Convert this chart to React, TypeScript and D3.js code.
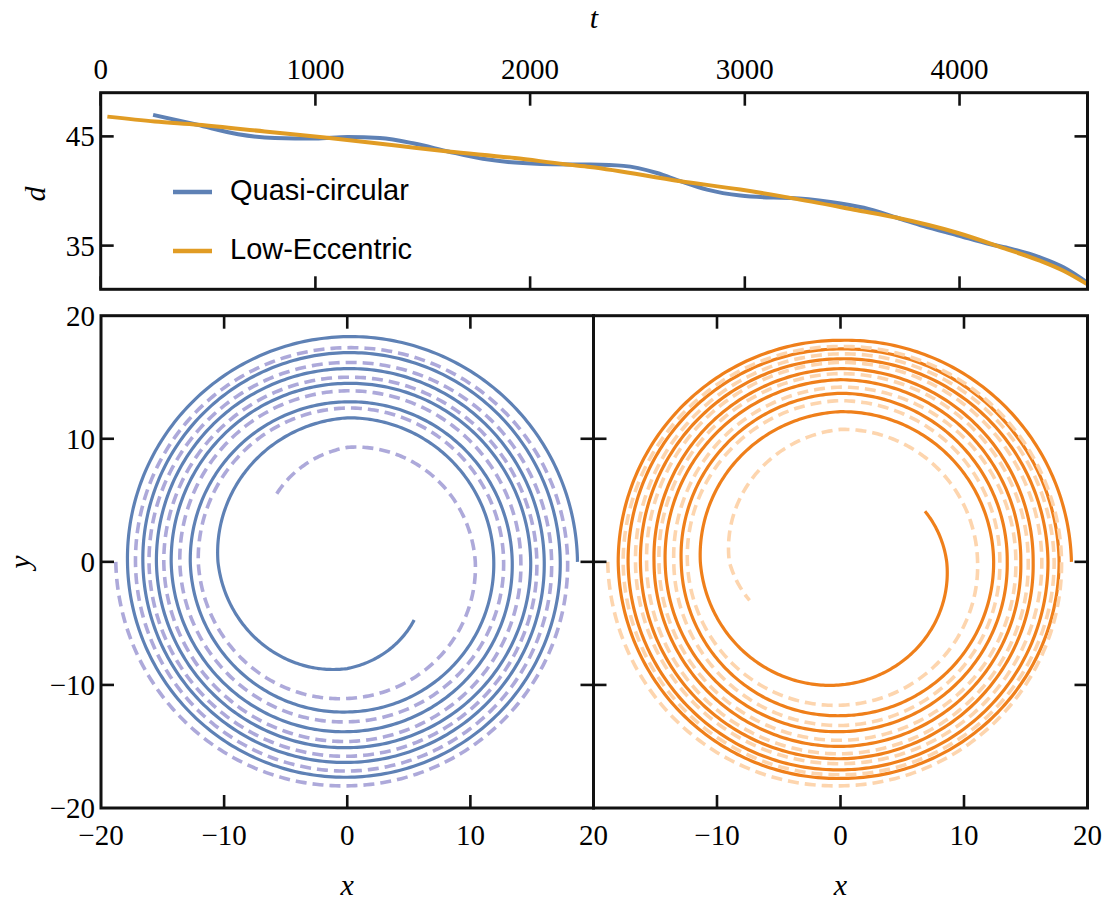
import React from "react";
import * as d3 from "d3";

// ---------- top panel data (separation d vs time t) ----------
const qcTime = [244, 450, 640, 811, 1000, 1150, 1300, 1460, 1618, 1780, 1930, 2100, 2280, 2435, 2591, 2700, 2824, 2979, 3134, 3212, 3399, 3554, 3709, 3833, 3989, 4144, 4237, 4377, 4486, 4596];
const qcSep = [46.97, 46.06, 45.2, 44.85, 44.8, 44.95, 44.85, 44.35, 43.62, 42.95, 42.6, 42.45, 42.42, 42.3, 41.65, 40.9, 40.13, 39.58, 39.4, 39.37, 39.0, 38.46, 37.55, 36.78, 35.95, 35.12, 34.72, 33.9, 32.99, 31.6];
const leTime = [31, 252, 453, 764, 1044, 1385, 1618, 1929, 2162, 2280, 2700, 2979, 3212, 3523, 3709, 3989, 4222, 4377, 4486, 4596];
const leSep = [46.81, 46.36, 46.06, 45.45, 44.9, 44.14, 43.62, 43.02, 42.45, 42.2, 40.9, 40.13, 39.37, 38.24, 37.55, 36.18, 34.66, 33.6, 32.68, 31.45];

const tTicks = [0, 1000, 2000, 3000, 4000];
const dTicks = [35, 45];
const xyTicks = [-20, -10, 0, 10, 20];
const innerTicks = [-10, 0, 10];
const legendLabels = ["Quasi-circular", "Low-Eccentric"];

// ---------- orbit tracks: angle (deg) and radius read at quarter turns ----------
const qcSolidAngle = [0, 90, 180, 270, 360, 450, 540, 630, 720, 810, 900, 990, 1080, 1170, 1260, 1350, 1440, 1530, 1620, 1710, 1800, 1890, 1980, 2070, 2119];
const qcSolidR = [18.7, 18.3, 17.85, 17.5, 17.3, 17.0, 16.6, 16.3, 16.0, 15.7, 15.5, 15.1, 14.9, 14.5, 14.3, 13.8, 13.4, 13.0, 12.75, 12.2, 11.9, 11.7, 10.5, 8.67, 7.2];
const qcDashAngle = [180, 270, 360, 450, 540, 630, 720, 810, 900, 990, 1080, 1170, 1260, 1350, 1440, 1530, 1620, 1710, 1800, 1890, 1980, 2070, 2160, 2250, 2296];
const qcDashR = [18.8, 18.2, 17.9, 17.4, 17.2, 17.0, 16.6, 16.2, 16.1, 15.8, 15.4, 15.0, 14.9, 14.6, 14.1, 13.9, 13.6, 13.0, 12.7, 12.5, 12.1, 11.1, 10.4, 9.3, 7.96];

const leSolidAngle = [0, 90, 180, 270, 360, 450, 540, 630, 720, 810, 900, 990, 1080, 1170, 1260, 1350, 1440, 1530, 1620, 1710, 1800, 1890, 1980, 2070, 2160, 2250, 2340, 2430, 2520, 2551];
const leSolidR = [18.7, 18.0, 18.0, 17.6, 17.7, 17.3, 17.2, 16.9, 16.8, 16.5, 16.2, 16.0, 15.6, 15.7, 15.1, 15.0, 14.6, 14.8, 14.2, 13.8, 13.5, 13.7, 12.9, 12.5, 12.4, 12.2, 11.35, 10.0, 8.6, 7.98];
const leDashAngle = [180, 270, 360, 450, 540, 630, 720, 810, 900, 990, 1080, 1170, 1260, 1350, 1440, 1530, 1620, 1710, 1800, 1890, 1980, 2070, 2160, 2250, 2340, 2430, 2520, 2610, 2700, 2723];
const leDashR = [18.85, 18.2, 17.9, 17.5, 17.6, 17.3, 17.3, 16.9, 16.6, 16.4, 16.3, 16.2, 15.7, 15.6, 15.2, 15.3, 14.7, 14.5, 14.2, 14.2, 13.5, 13.3, 12.9, 13.1, 12.4, 11.65, 11.1, 10.76, 9.0, 8.0];

const BLUE = "#5E81B5";
const GOLD = "#E19C24";
const LAVENDER = "#ADA9DA";
const ORANGE = "#EF7F1A";
const PEACH = "#FDD5AE";
const INK = "#111";
const SERIF = "'Liberation Serif', 'Times New Roman', serif";
const SANS = "'Liberation Sans', Arial, sans-serif";

const TOP = { left: 100.7, right: 1087.5, top: 92.7, bottom: 289.3 };
const BOT = { top: 315.7, bottom: 808, l1: 101, mid: 593.5, r2: 1087.5 };
const TICK = 13;

const fmt = (v: number) => (v < 0 ? "\u2212" + Math.abs(v) : String(v));

function spiralPath(angles: number[], radii: number[], xs: any, ys: any) {
  const rOf = d3.scaleLinear().domain(angles).range(radii);
  const a0 = angles[0];
  const a1 = angles[angles.length - 1];
  const samples = d3.range(a0, a1, 1).concat([a1]);
  const line = d3
    .line<number>()
    .x((a) => xs(rOf(a) * Math.cos((a * Math.PI) / 180)))
    .y((a) => ys(rOf(a) * Math.sin((a * Math.PI) / 180)));
  return line(samples) || "";
}

function OrbitPanel(props: {
  x0: number;
  x1: number;
  solidA: number[];
  solidR: number[];
  dashA: number[];
  dashR: number[];
  solidColor: string;
  dashColor: string;
  showLeftLabels: boolean;
  xLabels: number[];
}) {
  const xs = d3.scaleLinear().domain([-20, 20]).range([props.x0, props.x1]);
  const ys = d3.scaleLinear().domain([-20, 20]).range([BOT.bottom, BOT.top]);
  const clipId = "clip" + Math.round(props.x0);
  return (
    <g>
      <defs>
        <clipPath id={clipId}>
          <rect x={props.x0} y={BOT.top} width={props.x1 - props.x0} height={BOT.bottom - BOT.top} />
        </clipPath>
      </defs>
      <g clipPath={`url(#${clipId})`}>
        <path d={spiralPath(props.solidA, props.solidR, xs, ys)} fill="none" stroke={props.solidColor} strokeWidth={3.2} />
        <path
          d={spiralPath(props.dashA, props.dashR, xs, ys)}
          fill="none"
          stroke={props.dashColor}
          strokeWidth={3.6}
          strokeDasharray="11 6"
        />
      </g>
      <rect x={props.x0} y={BOT.top} width={props.x1 - props.x0} height={BOT.bottom - BOT.top} fill="none" stroke={INK} strokeWidth={3} />
      {innerTicks.map((v) => (
        <g key={"tx" + v}>
          <line x1={xs(v)} x2={xs(v)} y1={BOT.bottom} y2={BOT.bottom - TICK} stroke={INK} strokeWidth={2.6} />
          <line x1={xs(v)} x2={xs(v)} y1={BOT.top} y2={BOT.top + TICK} stroke={INK} strokeWidth={2.6} />
          <line x1={props.x0} x2={props.x0 + TICK} y1={ys(v)} y2={ys(v)} stroke={INK} strokeWidth={2.6} />
          <line x1={props.x1} x2={props.x1 - TICK} y1={ys(v)} y2={ys(v)} stroke={INK} strokeWidth={2.6} />
        </g>
      ))}
      {props.xLabels.map((v) => (
        <text key={"lx" + v} x={xs(v)} y={845} textAnchor="middle" fontFamily={SERIF} fontSize={29}>
          {fmt(v)}
        </text>
      ))}
      {props.showLeftLabels &&
        xyTicks.map((v) => (
          <text key={"ly" + v} x={props.x0 - 6} y={ys(v) + 10} textAnchor="end" fontFamily={SERIF} fontSize={29}>
            {fmt(v)}
          </text>
        ))}
      <text x={xs(0)} y={895} textAnchor="middle" fontFamily={SERIF} fontStyle="italic" fontSize={30}>
        x
      </text>
    </g>
  );
}

export default function App() {
  const ts = d3.scaleLinear().domain([0, 4596]).range([TOP.left, TOP.right]);
  const ds = d3.scaleLinear().domain([31, 49]).range([TOP.bottom, TOP.top]);
  const line = d3
    .line<number>()
    .curve(d3.curveMonotoneX);
  const qcPath = line.x((i) => ts(qcTime[i])).y((i) => ds(qcSep[i]))(d3.range(qcTime.length)) || "";
  const lePath = line.x((i) => ts(leTime[i])).y((i) => ds(leSep[i]))(d3.range(leTime.length)) || "";

  return (
    <svg
      width={1107}
      height={900}
      viewBox="0 0 1107 900"
      style={{ position: "absolute", left: 0, top: 0, background: "#fff" }}
    >
      <rect x={0} y={0} width={1107} height={900} fill="#fff" />
      {/* ---------- top panel ---------- */}
      <defs>
        <clipPath id="topclip">
          <rect x={TOP.left} y={TOP.top} width={TOP.right - TOP.left} height={TOP.bottom - TOP.top} />
        </clipPath>
      </defs>
      <g clipPath="url(#topclip)">
        <path d={qcPath} fill="none" stroke={BLUE} strokeWidth={4} strokeLinejoin="round" />
        <path d={lePath} fill="none" stroke={GOLD} strokeWidth={4} strokeLinejoin="round" />
      </g>
      <rect x={TOP.left} y={TOP.top} width={TOP.right - TOP.left} height={TOP.bottom - TOP.top} fill="none" stroke={INK} strokeWidth={3} />
      {tTicks.map((v) => (
        <g key={"t" + v}>
          <line x1={ts(v)} x2={ts(v)} y1={TOP.top} y2={TOP.top + TICK} stroke={INK} strokeWidth={2.6} />
          <line x1={ts(v)} x2={ts(v)} y1={TOP.bottom} y2={TOP.bottom - TICK} stroke={INK} strokeWidth={2.6} />
          <text x={ts(v)} y={79} textAnchor="middle" fontFamily={SERIF} fontSize={29}>
            {v}
          </text>
        </g>
      ))}
      {dTicks.map((v) => (
        <g key={"d" + v}>
          <line x1={TOP.left} x2={TOP.left + TICK} y1={ds(v)} y2={ds(v)} stroke={INK} strokeWidth={2.6} />
          <line x1={TOP.right} x2={TOP.right - TICK} y1={ds(v)} y2={ds(v)} stroke={INK} strokeWidth={2.6} />
          <text x={TOP.left - 6} y={ds(v) + 10} textAnchor="end" fontFamily={SERIF} fontSize={29}>
            {v}
          </text>
        </g>
      ))}
      <text x={594} y={28} textAnchor="middle" fontFamily={SERIF} fontStyle="italic" fontSize={30}>
        t
      </text>
      <text transform="translate(45,194) rotate(-90)" textAnchor="middle" fontFamily={SERIF} fontStyle="italic" fontSize={30}>
        d
      </text>
      {/* legend */}
      {legendLabels.map((lab, i) => (
        <g key={lab}>
          <line x1={173} x2={212} y1={192 + i * 59} y2={192 + i * 59} stroke={i === 0 ? BLUE : GOLD} strokeWidth={4.5} />
          <text x={230} y={200 + i * 58.5} fontFamily={SANS} fontSize={29}>
            {lab}
          </text>
        </g>
      ))}

      {/* ---------- orbit panels ---------- */}
      <OrbitPanel
        x0={BOT.l1}
        x1={BOT.mid}
        solidA={qcSolidAngle}
        solidR={qcSolidR}
        dashA={qcDashAngle}
        dashR={qcDashR}
        solidColor={BLUE}
        dashColor={LAVENDER}
        showLeftLabels={true}
        xLabels={xyTicks}
      />
      <OrbitPanel
        x0={BOT.mid}
        x1={BOT.r2}
        solidA={leSolidAngle}
        solidR={leSolidR}
        dashA={leDashAngle}
        dashR={leDashR}
        solidColor={ORANGE}
        dashColor={PEACH}
        showLeftLabels={false}
        xLabels={[-10, 0, 10, 20]}
      />
      <text transform="translate(30,562) rotate(-90)" textAnchor="middle" fontFamily={SERIF} fontStyle="italic" fontSize={30}>
        y
      </text>
    </svg>
  );
}
